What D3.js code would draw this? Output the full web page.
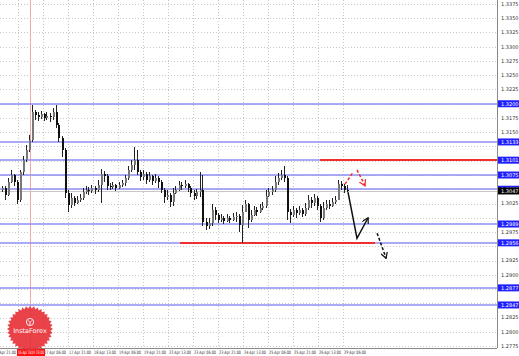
<!DOCTYPE html>
<html>
<head>
<meta charset="utf-8">
<script src="https://cdn.jsdelivr.net/npm/d3@7"></script>
<style>
  html, body { margin: 0; background: #fff; }
  svg { display: block; font-family: "DejaVu Sans", sans-serif; }
</style>
</head>
<body>
<svg id="chart" width="519" height="356"></svg>
<script>
// H1 candles (open = previous close)
const firstOpen = 1.3049;
const closes = [
  1.3052, 1.3040, 1.3063, 1.3075, 1.3063, 1.3031, 1.3080, 1.3101, 1.3119, 1.3136,
  1.3186, 1.3180, 1.3177, 1.3182, 1.3175, 1.3178, 1.3177, 1.3186, 1.3163, 1.3140,
  1.3119, 1.3043, 1.3022, 1.3035, 1.3026, 1.3031, 1.3035, 1.3045, 1.3049, 1.3047,
  1.3052, 1.3049, 1.3057, 1.3077, 1.3073, 1.3056, 1.3054, 1.3057, 1.3052, 1.3057,
  1.3061, 1.3070, 1.3084, 1.3093, 1.3101, 1.3080, 1.3071, 1.3077, 1.3066, 1.3073,
  1.3064, 1.3070, 1.3063, 1.3049, 1.3036, 1.3040, 1.3028, 1.3043, 1.3049, 1.3057,
  1.3056, 1.3059, 1.3052, 1.3043, 1.3038, 1.3045, 1.3049, 1.2993, 1.2986, 1.2991,
  1.3014, 1.3005, 1.2996, 1.3000, 1.2994, 1.3000, 1.2996, 1.3001, 1.3003, 1.2987,
  1.3010, 1.3024, 1.2996, 1.3005, 1.3014, 1.3010, 1.3017, 1.3021, 1.3038, 1.3045,
  1.3049, 1.3063, 1.3070, 1.3075, 1.3070, 1.3010, 1.3005, 1.3014, 1.3008, 1.3014,
  1.3007, 1.3017, 1.3031, 1.3026, 1.3035, 1.3021, 1.3000, 1.3017, 1.3024, 1.3021,
  1.3028, 1.3031, 1.3059, 1.3056, 1.3049, 1.3047
];
const highs = [
  1.3056, 1.3056, 1.3070, 1.3084, 1.3077, 1.3066, 1.3084, 1.3108, 1.3128, 1.3145,
  1.3198, 1.3189, 1.3186, 1.3187, 1.3184, 1.3186, 1.3184, 1.3193, 1.3198, 1.3166,
  1.3143, 1.3122, 1.3049, 1.3043, 1.3038, 1.3038, 1.3042, 1.3052, 1.3056, 1.3054,
  1.3057, 1.3056, 1.3066, 1.3086, 1.3082, 1.3077, 1.3061, 1.3063, 1.3059, 1.3063,
  1.3066, 1.3075, 1.3091, 1.3101, 1.3124, 1.3119, 1.3084, 1.3084, 1.3080, 1.3080,
  1.3075, 1.3077, 1.3073, 1.3066, 1.3052, 1.3049, 1.3043, 1.3052, 1.3056, 1.3064,
  1.3063, 1.3066, 1.3061, 1.3056, 1.3049, 1.3050, 1.3080, 1.3075, 1.3000, 1.3000,
  1.3024, 1.3019, 1.3008, 1.3007, 1.3003, 1.3007, 1.3003, 1.3008, 1.3010, 1.3007,
  1.3022, 1.3031, 1.3026, 1.3014, 1.3021, 1.3019, 1.3024, 1.3028, 1.3049, 1.3052,
  1.3056, 1.3073, 1.3078, 1.3084, 1.3091, 1.3073, 1.3015, 1.3021, 1.3017, 1.3021,
  1.3017, 1.3026, 1.3040, 1.3036, 1.3042, 1.3038, 1.3024, 1.3028, 1.3031, 1.3031,
  1.3035, 1.3038, 1.3066, 1.3064, 1.3059, 1.3057
];
const lows = [
  1.3045, 1.3031, 1.3038, 1.3061, 1.3056, 1.3024, 1.3028, 1.3075, 1.3098, 1.3115,
  1.3133, 1.3171, 1.3170, 1.3173, 1.3170, 1.3171, 1.3168, 1.3171, 1.3157, 1.3133,
  1.3107, 1.3035, 1.3010, 1.3017, 1.3021, 1.3024, 1.3028, 1.3031, 1.3042, 1.3040,
  1.3043, 1.3042, 1.3045, 1.3026, 1.3063, 1.3049, 1.3049, 1.3050, 1.3047, 1.3050,
  1.3054, 1.3056, 1.3066, 1.3080, 1.3084, 1.3075, 1.3064, 1.3066, 1.3059, 1.3063,
  1.3057, 1.3061, 1.3052, 1.3043, 1.3026, 1.3031, 1.3019, 1.3021, 1.3042, 1.3047,
  1.3049, 1.3052, 1.3045, 1.3036, 1.3031, 1.3033, 1.3036, 1.2986, 1.2978, 1.2980,
  1.2986, 1.2996, 1.2991, 1.2993, 1.2989, 1.2993, 1.2991, 1.2994, 1.2993, 1.2975,
  1.2956, 1.3014, 1.2982, 1.2993, 1.3003, 1.3003, 1.3008, 1.3014, 1.3017, 1.3036,
  1.3040, 1.3045, 1.3057, 1.3066, 1.3063, 1.2996, 1.2991, 1.3001, 1.3000, 1.3005,
  1.3001, 1.3003, 1.3014, 1.3017, 1.3021, 1.3014, 1.2993, 1.2996, 1.3014, 1.3015,
  1.3019, 1.3024, 1.3035, 1.3049, 1.3043, 1.3045
];

const priceTicks = [
  1.3375, 1.3350, 1.3325, 1.3300, 1.3275, 1.3250, 1.3225, 1.3200, 1.3175, 1.3150,
  1.3125, 1.3100, 1.3075, 1.3050, 1.3025, 1.3000, 1.2975, 1.2950, 1.2925, 1.2900,
  1.2875, 1.2850, 1.2825, 1.2800, 1.2775
];
const timeLabels = [
  '15 Apr 21:00', '16 Apr 13:00', '17 Apr 06:00', '17 Apr 21:00', '18 Apr 13:00',
  '19 Apr 06:00', '19 Apr 21:00', '22 Apr 13:00', '23 Apr 06:00', '23 Apr 21:00',
  '24 Apr 13:00', '25 Apr 06:00', '25 Apr 21:00', '26 Apr 13:00', '29 Apr 06:00'
];

const blueLevels = [1.3200, 1.3133, 1.3101, 1.3075, 1.3050, 1.2989, 1.2956, 1.2877, 1.2847];
const redLevelPrices = [1.3101, 1.2956];
const redLevelFrom = [106.2, 59.5];
const redLevelTo = [170, 124.5];
const currentPrice = 1.3047;
const markerIndex = 9.5;
const markerLabel = '16 Apr 2019 23:00';

// forecast arrows as [candle index, price]
const redArrowA = [[114.5, 1.3059], [117.2, 1.3080]];
const redArrowB = [[118.5, 1.3084], [121.2, 1.3056]];
const blackArrowA = [[115.5, 1.3045], [118.5, 1.2964], [122.2, 1.3000]];
const blackArrowB = [[125.2, 1.2973], [128.2, 1.2929]];

const plotRight = 497, plotBottom = 348;

const svg = d3.select('#chart');
const x = d3.scaleLinear().domain([0, closes.length - 1]).range([1.5, 346.5]);
const y = d3.scaleLinear().domain([1.2775, 1.3375]).range([346, 4]);
const xt = d3.scaleLinear().domain([0, timeLabels.length - 1]).range([-7, 343]);

const plot = svg.append('g');

// grid
plot.selectAll('line.hgrid').data(priceTicks).join('line')
  .attr('x1', 0).attr('x2', plotRight)
  .attr('y1', d => Math.round(y(d)) + 0.5).attr('y2', d => Math.round(y(d)) + 0.5)
  .attr('stroke', '#c8c8c8').attr('stroke-dasharray', '1,2');
plot.selectAll('line.vgrid').data(timeLabels).join('line')
  .attr('x1', (d, i) => Math.round(xt(i)) + 0.5).attr('x2', (d, i) => Math.round(xt(i)) + 0.5)
  .attr('y1', 0).attr('y2', plotBottom)
  .attr('stroke', '#c8c8c8').attr('stroke-dasharray', '1,2');

// period separator
plot.append('line')
  .attr('x1', Math.round(x(markerIndex)) + 0.5).attr('x2', Math.round(x(markerIndex)) + 0.5)
  .attr('y1', 0).attr('y2', plotBottom)
  .attr('stroke', '#f4a4a4');

// bid line
plot.append('line')
  .attr('x1', 0).attr('x2', plotRight)
  .attr('y1', Math.round(y(currentPrice)) + 0.5).attr('y2', Math.round(y(currentPrice)) + 0.5)
  .attr('stroke', '#c8c8c8');

// levels
plot.selectAll('line.blue').data(blueLevels).join('line')
  .attr('x1', 0).attr('x2', plotRight)
  .attr('y1', d => Math.round(y(d))).attr('y2', d => Math.round(y(d)))
  .attr('stroke', '#8e8ef4').attr('stroke-width', 1.5);
plot.selectAll('line.red').data(redLevelPrices).join('line')
  .attr('x1', (d, i) => x(redLevelFrom[i]))
  .attr('x2', (d, i) => Math.min(plotRight, x(redLevelTo[i])))
  .attr('y1', d => Math.round(y(d))).attr('y2', d => Math.round(y(d)))
  .attr('stroke', '#ee3030').attr('stroke-width', 1.8);

// candles
const candles = closes.map((c, i) => ({
  i, o: i === 0 ? firstOpen : closes[i - 1], c, h: highs[i], l: lows[i]
}));
const cg = plot.append('g').attr('shape-rendering', 'crispEdges');
cg.selectAll('line.wick').data(candles).join('line')
  .attr('x1', d => Math.round(x(d.i)) + 0.5).attr('x2', d => Math.round(x(d.i)) + 0.5)
  .attr('y1', d => y(d.h)).attr('y2', d => y(d.l))
  .attr('stroke', '#222');
cg.selectAll('rect.body').data(candles).join('rect')
  .attr('x', d => Math.round(x(d.i)) - 0.5)
  .attr('width', 2)
  .attr('y', d => y(Math.max(d.o, d.c)))
  .attr('height', d => Math.max(1, Math.abs(y(d.o) - y(d.c))))
  .attr('fill', d => d.c >= d.o ? '#777' : '#111');

// arrows
const defs = svg.append('defs');
[['red', '#ee3030'], ['blk', '#111']].forEach(([id, col]) => {
  defs.append('marker').attr('id', 'arr-' + id)
    .attr('viewBox', '0 0 8 8').attr('refX', 7).attr('refY', 4)
    .attr('markerWidth', 7).attr('markerHeight', 7).attr('markerUnits', 'userSpaceOnUse')
    .attr('orient', 'auto')
    .append('path').attr('d', 'M0,0 L7,4 L0,8').attr('fill', 'none')
    .attr('stroke', col).attr('stroke-width', 1.4);
});
const line = d3.line().x(d => x(d[0])).y(d => y(d[1]));
const arrows = [
  [redArrowA, '#ee3030', '3,2', null],
  [redArrowB, '#ee3030', '3,2', 'red'],
  [blackArrowA, '#111', null, 'blk'],
  [blackArrowB, '#111', '3,2', 'blk']
];
arrows.forEach(([pts, col, dash, mk]) => {
  plot.append('path').attr('d', line(pts))
    .attr('fill', 'none').attr('stroke', col).attr('stroke-width', 1.5)
    .attr('stroke-dasharray', dash)
    .attr('marker-end', mk ? `url(#arr-${mk})` : null);
});

// frame
svg.append('line').attr('x1', plotRight + 0.5).attr('x2', plotRight + 0.5)
  .attr('y1', 0).attr('y2', plotBottom).attr('stroke', '#888');
svg.append('line').attr('x1', 0).attr('x2', plotRight)
  .attr('y1', plotBottom + 0.5).attr('y2', plotBottom + 0.5).attr('stroke', '#888');

// price axis (plain ticks that a tag would cover are left out)
const tagged = blueLevels.concat([currentPrice]);
const visibleTicks = priceTicks.filter(t => !tagged.some(p => Math.abs(y(p) - y(t)) < 7));
svg.selectAll('text.pt').data(visibleTicks).join('text')
  .attr('x', 501).attr('y', d => y(d)).attr('dy', '0.35em')
  .attr('font-size', 5).attr('fill', '#333').text(d => d.toFixed(4));

function tag(price, fill) {
  const g = svg.append('g');
  g.append('rect').attr('x', 498).attr('y', y(price) - 3.5).attr('width', 21).attr('height', 7).attr('fill', fill);
  g.append('text').attr('x', 501).attr('y', y(price)).attr('dy', '0.35em')
    .attr('font-size', 5).attr('fill', '#fff').text(price.toFixed(4));
}
blueLevels.forEach(p => tag(p, '#2020ff'));
tag(currentPrice, '#000');

// time axis
const mx = x(markerIndex);
const visibleTimes = timeLabels.map((t, i) => ({ t, i })).filter(d => Math.abs(xt(d.i) + 12 - mx) > 16);
svg.selectAll('text.tl').data(visibleTimes).join('text')
  .attr('x', d => xt(d.i) + 1).attr('y', 354)
  .attr('font-size', 4.6).attr('fill', '#333')
  .attr('textLength', 22).attr('lengthAdjust', 'spacingAndGlyphs')
  .text(d => d.t);
svg.append('rect').attr('x', mx - 13).attr('y', 349).attr('width', 28).attr('height', 7).attr('fill', '#ff1010');
svg.append('text').attr('x', mx - 12).attr('y', 354)
  .attr('font-size', 4.6).attr('fill', '#fff')
  .attr('textLength', 26).attr('lengthAdjust', 'spacingAndGlyphs')
  .text(markerLabel);

// logo seal
const cx = 30, cy = 329, teeth = 36;
const sealPts = d3.range(teeth * 2).map(k => {
  const a = (k / (teeth * 2)) * Math.PI * 2;
  const r = k % 2 ? 20.5 : 23;
  return [cx + r * Math.cos(a), cy + r * Math.sin(a)];
});
const logo = svg.append('g').attr('opacity', 0.92);
logo.append('path').attr('d', 'M' + sealPts.join('L') + 'Z').attr('fill', '#e8323a');
logo.append('circle').attr('cx', cx).attr('cy', cy - 7).attr('r', 3.6)
  .attr('fill', 'none').attr('stroke', '#fff').attr('stroke-width', 0.9);
logo.append('path').attr('d', `M${cx - 1.8},${cy - 8.5} L${cx},${cy - 6.5} L${cx + 1.8},${cy - 8.5} M${cx},${cy - 6.5} L${cx},${cy - 4}`)
  .attr('fill', 'none').attr('stroke', '#fff').attr('stroke-width', 0.9);
logo.append('text').attr('x', cx).attr('y', cy + 4).attr('text-anchor', 'middle')
  .attr('font-size', 6.5).attr('fill', '#fff').text('InstaForex');
</script>
</body>
</html>
